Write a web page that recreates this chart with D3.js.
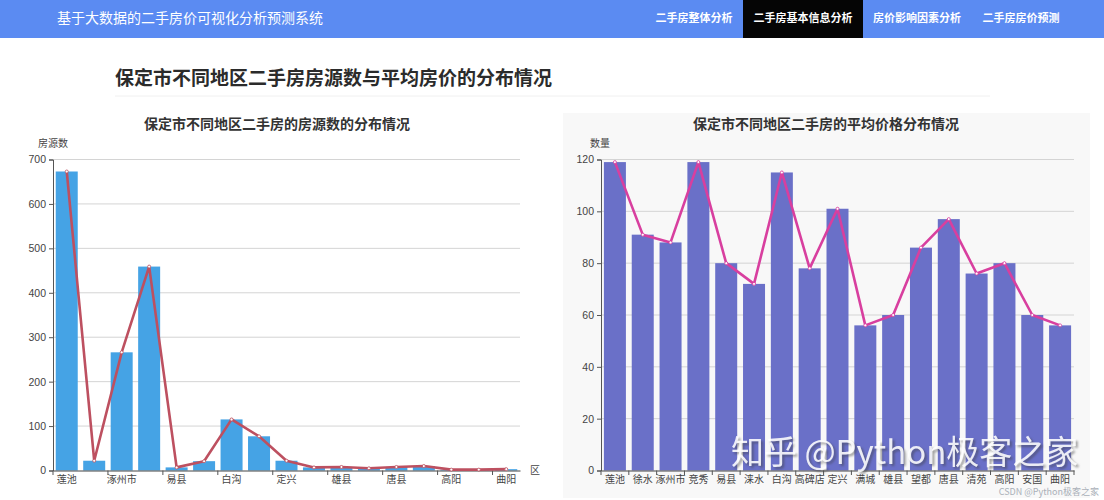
<!DOCTYPE html>
<html><head><meta charset="utf-8">
<script src="https://cdn.jsdelivr.net/npm/d3@7/dist/d3.min.js"></script>
<style>html,body{margin:0;padding:0;background:#fff;overflow:hidden}svg{display:block}text{font-family:"Noto Sans CJK SC","Noto Sans",sans-serif}</style>
</head><body><svg id="c" width="1104" height="500"></svg>
<script>
const categories=["莲池","徐水","涿州市","竞秀","易县","涞水","白沟","高碑店","定兴","满城","雄县","望都","唐县","清苑","高阳","安国","曲阳"];
const listingCounts=[673,22,266,459,7,21,115,77,22,7,8,5,8,10,2,2,3];
const avgPrices=[119,91,88,119,80,72,115,78,101,56,60,86,97,76,80,60,56];
const countTicks=[0,100,200,300,400,500,600,700];
const priceTicks=[0,20,40,60,80,100,120];
const navItems=["二手房整体分析","二手房基本信息分析","房价影响因素分析","二手房房价预测"];

const svg=d3.select("#c");
svg.append("rect").attr("width",1104).attr("height",38).attr("fill","#5b8bf2");
svg.append("text").attr("x",57).attr("y",23).attr("font-size",14).attr("fill","#fff").text("基于大数据的二手房价可视化分析预测系统");
const navX=[694,803,917,1021];
svg.append("rect").attr("x",743).attr("width",120).attr("height",38).attr("fill","#050505");
navItems.forEach((t,i)=>svg.append("text").attr("x",navX[i]).attr("y",22).attr("text-anchor","middle").attr("font-size",11).attr("font-weight",700).attr("fill","#fff").text(t));
svg.append("text").attr("x",115).attr("y",85).attr("font-size",19).attr("font-weight",700).attr("fill","#2b2b2b").text("保定市不同地区二手房房源数与平均房价的分布情况");
svg.append("line").attr("x1",115).attr("x2",990).attr("y1",96).attr("y2",96).attr("stroke","#f0f0f0");
svg.append("rect").attr("x",563).attr("y",113).attr("width",527).attr("height",385).attr("fill","#f8f8f8");

function chart(o){
  const g=svg.append("g");
  const x=d3.scaleBand().domain(categories).range([o.x0,o.x1]);
  const y=d3.scaleLinear().domain([0,o.max]).range([470.5,159.5]);
  g.append("text").attr("x",o.titleX).attr("y",129).attr("text-anchor","middle").attr("font-size",14).attr("font-weight",700).attr("fill","#333").text(o.title);
  g.append("text").attr("x",o.nameX).attr("y",147).attr("text-anchor","middle").attr("font-size",10).attr("fill","#444").text(o.yName);
  // gridlines
  g.append("g").selectAll("line").data(o.ticks.slice(1)).join("line")
    .attr("x1",o.x0).attr("x2",o.x1).attr("y1",d=>y(d)).attr("y2",d=>y(d)).attr("stroke","#d4d4d4");
  // bars
  g.append("g").selectAll("rect").data(o.values).join("rect")
    .attr("x",(d,i)=>x(categories[i])+(x.step()-o.barW)/2).attr("width",o.barW)
    .attr("y",d=>y(d)).attr("height",d=>y(0)-y(d)).attr("fill",o.barColor);
  // y axis
  const ya=g.append("g").attr("transform",`translate(${o.x0},0)`)
    .call(d3.axisLeft(y).tickValues(o.ticks).tickSize(4).tickPadding(3));
  ya.selectAll("path,line").attr("stroke","#555");
  ya.selectAll("text").attr("font-size",10.5).attr("fill","#444").style("font-family","'Liberation Sans',sans-serif");
  // x axis
  const xa=g.append("g").attr("transform","translate(0,470.5)")
    .call(d3.axisBottom(x).tickSize(0).tickPadding(5).tickSizeOuter(0).tickFormat((d,i)=>i%o.every===0?d:""));
  xa.select("path").attr("stroke","#444");
  xa.selectAll("text").attr("font-size",10).attr("fill","#444");
  const boundaries=d3.range(0,categories.length+1,o.tickEvery).map(i=>o.x0+i*x.step());
  g.append("g").selectAll("line").data(boundaries).join("line")
    .attr("x1",d=>d).attr("x2",d=>d).attr("y1",470.5).attr("y2",475).attr("stroke","#555");
  if(o.xName) g.append("text").attr("x",535).attr("y",474).attr("text-anchor","middle").attr("font-size",10).attr("fill","#444").text(o.xName);
  // line
  const line=d3.line().x((d,i)=>x(categories[i])+x.step()/2).y(d=>y(d));
  g.append("path").attr("d",line(o.values)).attr("fill","none").attr("stroke",o.lineColor).attr("stroke-width",2.6).attr("stroke-linejoin","round");
  g.append("g").selectAll("circle").data(o.values).join("circle")
    .attr("cx",(d,i)=>x(categories[i])+x.step()/2).attr("cy",d=>y(d)).attr("r",1.5)
    .attr("fill","#fff").attr("stroke",o.lineColor).attr("stroke-width",.8);
}
chart({x0:53,x1:520,max:700,values:listingCounts,ticks:countTicks,title:"保定市不同地区二手房的房源数的分布情况",titleX:277,yName:"房源数",nameX:53,barW:22,barColor:"#45a3e5",lineColor:"#bd5060",every:2,tickEvery:2,xName:"区"});
chart({x0:601,x1:1074,max:120,values:avgPrices,ticks:priceTicks,title:"保定市不同地区二手房的平均价格分布情况",titleX:826,yName:"数量",nameX:600,barW:22,barColor:"#6a70c8",lineColor:"#d83f9f",every:1,tickEvery:1});

// watermarks
const wm=svg.append("text").attr("x",731).attr("y",464).attr("font-size",33).attr("fill","#fff").attr("fill-opacity",.88)
  .style("paint-order","normal").style("filter","drop-shadow(2px 2px 1px rgba(60,60,60,.55))").text("知乎 @Python极客之家");
svg.append("text").attr("x",1099).attr("y",495).attr("text-anchor","end").attr("font-size",9).attr("fill","#aab0b8").text("CSDN @Python极客之家");
</script></body></html>
